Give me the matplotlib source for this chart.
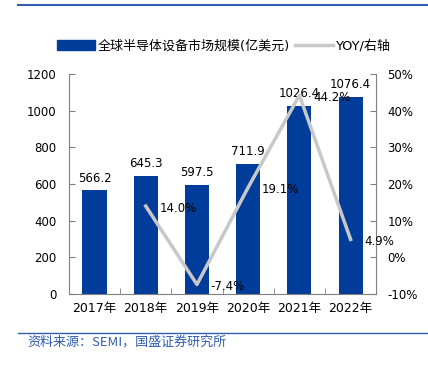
import matplotlib
matplotlib.use("Agg")
import matplotlib.pyplot as plt
import numpy as np
from matplotlib.lines import Line2D
from matplotlib.patches import Patch

plt.rcParams['font.family'] = ['DejaVu Sans', 'Noto Sans CJK SC']

years = ['2017年', '2018年', '2019年', '2020年', '2021年', '2022年']
market = [566.2, 645.3, 597.5, 711.9, 1026.4, 1076.4]
yoy = [None, 14.0, -7.4, 19.1, 44.2, 4.9]

bar_color = '#003D9A'
line_color = '#C8C8C8'
spine_color = '#808080'

fig = plt.figure(figsize=(4.28, 3.65), dpi=100)
ax = fig.add_axes([0.161, 0.1945, 0.718, 0.6025])
ax2 = ax.twinx()

x = np.arange(len(years))
ax.bar(x, market, width=0.47, color=bar_color, zorder=2)
for xi, v in zip(x, market):
    ax.annotate(f'{v:.1f}', (xi, v), xytext=(0, 4), textcoords='offset points',
                ha='center', va='bottom', fontsize=8.5, zorder=5)

ax.set_xlim(-0.5, len(years) - 0.5)
ax.set_ylim(0, 1200)
ax.set_yticks(range(0, 1201, 200))
ax.set_xticks(x)
ax.set_xticklabels(years, fontsize=9)
ax.set_xticks(np.arange(-0.5, len(years), 1), minor=True)
ax.tick_params(axis='x', which='major', length=0, pad=6)
ax.tick_params(axis='x', which='minor', length=4, color=spine_color, direction='in')
ax.tick_params(axis='y', length=4, color=spine_color, direction='in', labelsize=8.5, pad=9)

yx = [xi for xi, v in zip(x, yoy) if v is not None]
yv = [v for v in yoy if v is not None]
ax2.plot(yx, yv, color=line_color, lw=2.5, zorder=3)
for xi, v in zip(yx, yv):
    ax2.annotate(f'{v:.1f}%', (xi, v), xytext=(10, -1.5), textcoords='offset points',
                 ha='left', va='center', fontsize=8.5, zorder=5)
ax2.set_ylim(-10, 50)
ax2.set_yticks(range(-10, 51, 10))
ax2.set_yticklabels([f'{t}%' for t in range(-10, 51, 10)])
ax2.tick_params(axis='y', length=4, color=spine_color, direction='in', labelsize=8.5, pad=8)

for a in (ax, ax2):
    a.spines['top'].set_visible(False)
    for s in ['left', 'right', 'bottom']:
        a.spines[s].set_color(spine_color)
ax.spines['right'].set_visible(False)
ax2.spines['left'].set_visible(False)
ax2.spines['bottom'].set_visible(False)

handles = [Patch(facecolor=bar_color, edgecolor=bar_color),
           Line2D([0], [0], color=line_color, lw=2.5)]
labels = ['全球半导体设备市场规模(亿美元)', 'YOY/右轴']
fig.legend(handles, labels, loc='center', bbox_to_anchor=(0.523, 0.874), ncol=2,
           frameon=False, handlelength=2.9, handleheight=0.9,
           handletextpad=0.2, columnspacing=0.4,
           prop={'family': ['DejaVu Sans', 'Noto Sans CJK SC'], 'size': 9.4})

fig.add_artist(Line2D([0.042, 1.0], [0.986, 0.986], color='#2F5DAF', lw=1.5,
                      transform=fig.transFigure))
fig.add_artist(Line2D([0.042, 1.0], [0.088, 0.088], color='#2F5DAF', lw=1.0,
                      transform=fig.transFigure))
fig.text(0.065, 0.063, '资料来源：SEMI，国盛证券研究所', fontsize=9.4, color='#2F5DAF',
         style='italic', va='center', family=['Noto Sans CJK SC', 'DejaVu Sans'])

fig.savefig('out.png', dpi=100)
